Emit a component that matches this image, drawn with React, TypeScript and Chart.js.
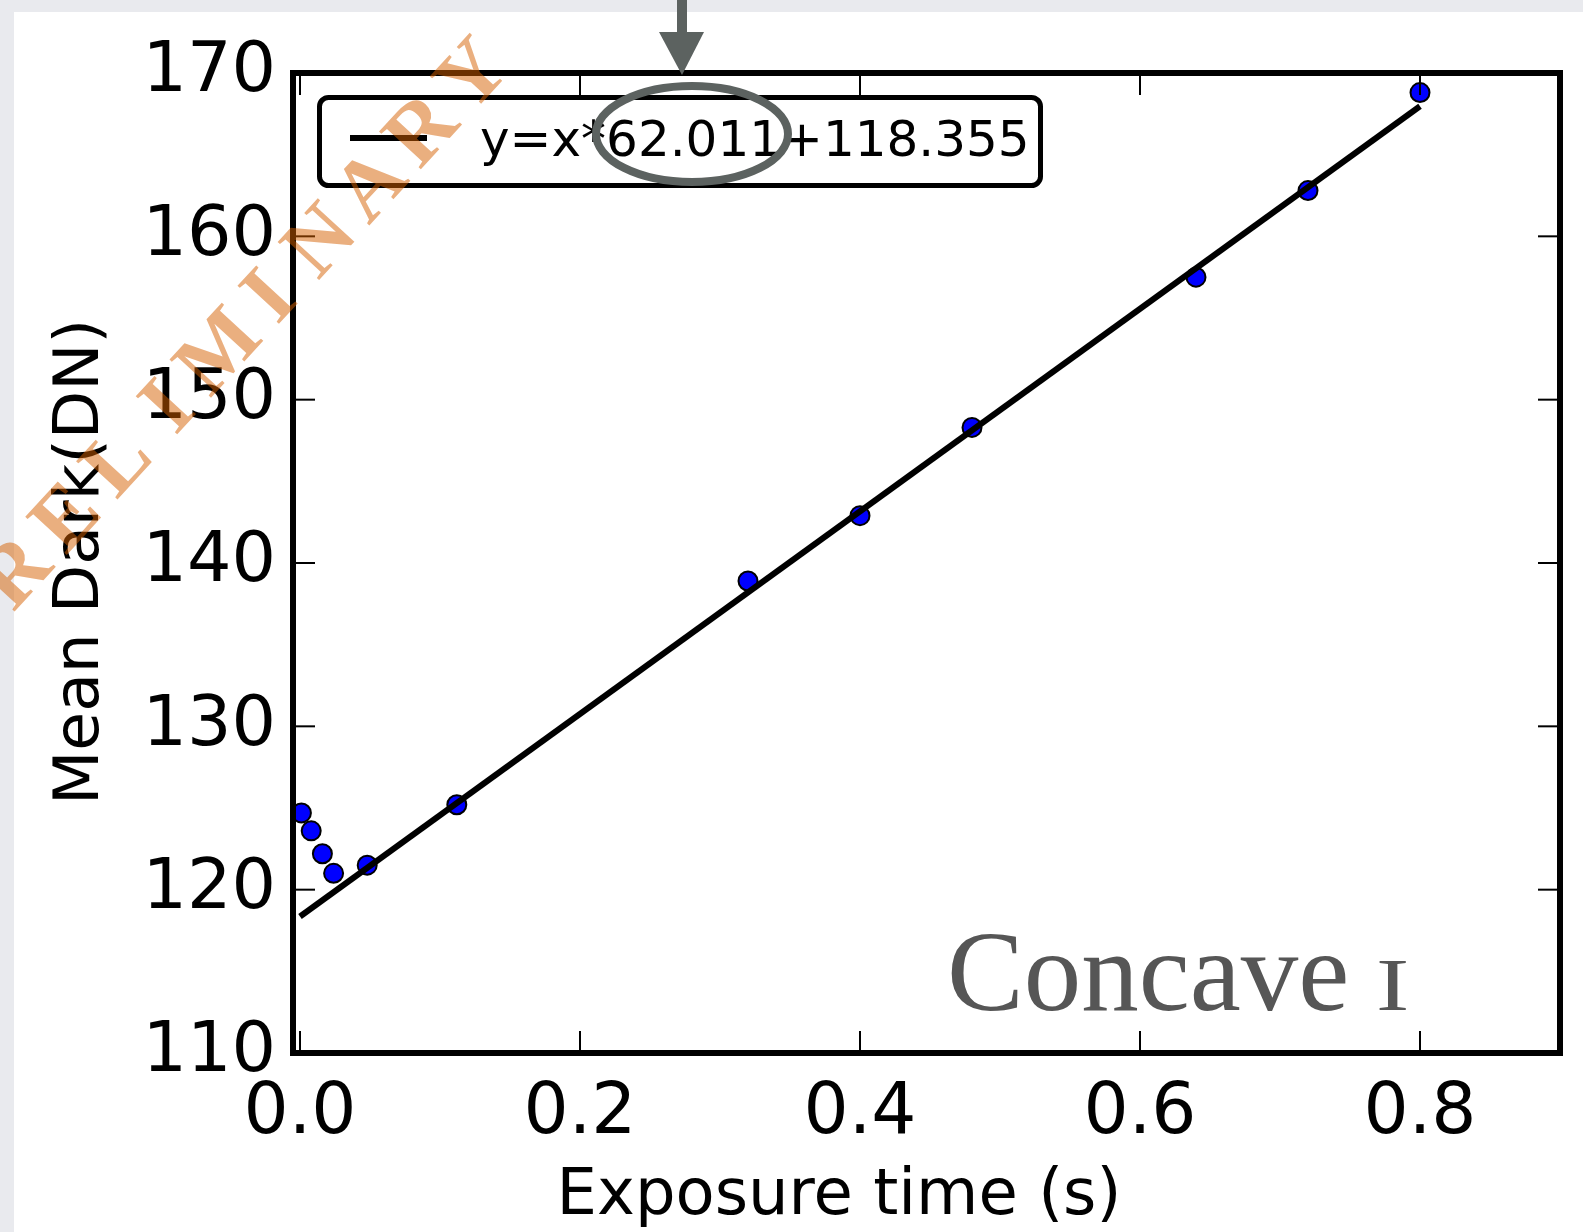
import React, { useEffect, useRef } from 'react';
import { Chart, registerables } from 'chart.js';

Chart.register(...registerables);

// ---- data ----
const exposureTimes = [0.001, 0.008, 0.016, 0.024, 0.048, 0.112, 0.32, 0.4, 0.48, 0.64, 0.72, 0.8];
const meanDark = [124.7, 123.6, 122.2, 121.0, 121.5, 125.2, 138.9, 142.9, 148.3, 157.5, 162.8, 168.8];
const fitX = [0, 0.8];
const fitY = [118.355, 167.964];
const xTickValues = [0, 0.2, 0.4, 0.6, 0.8];
const yTickValues = [110, 120, 130, 140, 150, 160, 170];
const legendLabel = 'y=x*62.011+118.355';
const xTitle = 'Exposure time (s)';
const yTitle = 'Mean Dark(DN)';
const panelLabel = 'Concave';
const panelNumeral = 'I';
const watermark = 'PRELIMINARY';

const W = 1583;
const H = 1232;

export default function App() {
  const ref = useRef<HTMLCanvasElement>(null);

  useEffect(() => {
    const canvas = ref.current;
    if (!canvas) return;

    const decor = {
      id: 'decor',
      afterDatasetsDraw(chart: any) {
        const { ctx, chartArea: ca, scales } = chart;
        const xs = scales.x;
        const ys = scales.y;
        ctx.save();
        const seg = (x1: number, y1: number, x2: number, y2: number) => {
          ctx.beginPath();
          ctx.moveTo(x1, y1);
          ctx.lineTo(x2, y2);
          ctx.stroke();
        };
        // inward tick marks on all four sides
        ctx.strokeStyle = '#000';
        ctx.lineWidth = 2;
        const tl = 22;
        xTickValues.forEach((v) => {
          const px = xs.getPixelForValue(v);
          seg(px, ca.bottom, px, ca.bottom - tl);
          seg(px, ca.top, px, ca.top + tl);
        });
        yTickValues.forEach((v) => {
          const py = ys.getPixelForValue(v);
          seg(ca.left, py, ca.left + tl, py);
          seg(ca.right, py, ca.right - tl, py);
        });
        // frame
        ctx.lineWidth = 6;
        ctx.strokeRect(ca.left, ca.top, ca.right - ca.left, ca.bottom - ca.top);

        // legend box
        const lx = ca.left + 26.5;
        const ly = ca.top + 24.5;
        const lw = 721;
        const lh = 88;
        const r = 9;
        ctx.fillStyle = '#fff';
        ctx.lineWidth = 5;
        ctx.beginPath();
        ctx.moveTo(lx + r, ly);
        ctx.lineTo(lx + lw - r, ly);
        ctx.arcTo(lx + lw, ly, lx + lw, ly + r, r);
        ctx.lineTo(lx + lw, ly + lh - r);
        ctx.arcTo(lx + lw, ly + lh, lx + lw - r, ly + lh, r);
        ctx.lineTo(lx + r, ly + lh);
        ctx.arcTo(lx, ly + lh, lx, ly + lh - r, r);
        ctx.lineTo(lx, ly + r);
        ctx.arcTo(lx, ly, lx + r, ly, r);
        ctx.closePath();
        ctx.fill();
        ctx.stroke();
        ctx.lineWidth = 6;
        seg(350, 138, 427, 138);
        ctx.fillStyle = '#000';
        ctx.font = '50px "DejaVu Sans"';
        ctx.textAlign = 'left';
        ctx.textBaseline = 'alphabetic';
        ctx.fillText(legendLabel, 480, 156);

        // axis titles
        ctx.font = '64px "DejaVu Sans"';
        ctx.textAlign = 'center';
        ctx.fillText(xTitle, 839, 1214);
        ctx.save();
        ctx.translate(98, 562);
        ctx.rotate(-Math.PI / 2);
        ctx.font = '63px "DejaVu Sans"';
        ctx.fillText(yTitle, 0, 0);
        ctx.restore();

        // panel label
        ctx.fillStyle = '#565656';
        ctx.textAlign = 'left';
        ctx.font = '115px "Liberation Serif"';
        ctx.fillText(panelLabel, 947, 1010);
        ctx.save();
        ctx.translate(1376, 1010);
        ctx.scale(1.35, 1);
        ctx.font = '74px "Liberation Serif"';
        ctx.fillText(panelNumeral, 0, 0);
        ctx.restore();

        // annotation: ellipse + arrow
        ctx.strokeStyle = '#5c6260';
        ctx.lineWidth = 8;
        ctx.beginPath();
        ctx.ellipse(692, 134, 96, 48, 0, 0, Math.PI * 2);
        ctx.stroke();
        ctx.fillStyle = '#5c6260';
        ctx.fillRect(677, 0, 10, 34);
        ctx.beginPath();
        ctx.moveTo(659, 32);
        ctx.lineTo(704, 32);
        ctx.lineTo(682, 75);
        ctx.closePath();
        ctx.fill();
        ctx.restore();
      },
      afterDraw(chart: any) {
        const { ctx } = chart;
        ctx.save();
        const dx = 0.677;
        const dy = -0.737;
        const ang = Math.atan2(dy, dx);
        const step = 75;
        const rx = 18;
        const ry = 575;
        ctx.font = 'bold 86px "Liberation Serif"';
        ctx.fillStyle = 'rgba(213,96,0,0.5)';
        ctx.textAlign = 'center';
        ctx.textBaseline = 'middle';
        watermark.split('').forEach((ch, i) => {
          const k = (i - 1) * step;
          ctx.save();
          ctx.translate(rx + k * dx, ry + k * dy);
          ctx.rotate(ang);
          ctx.fillText(ch, 0, 0);
          ctx.restore();
        });
        ctx.restore();
      },
    };

    const chart = new Chart(canvas, {
      type: 'scatter',
      data: {
        datasets: [
          {
            type: 'line',
            label: legendLabel,
            data: fitX.map((x, i) => ({ x, y: fitY[i] })),
            borderColor: '#000',
            borderWidth: 6,
            pointRadius: 0,
            fill: false,
            order: 0,
          } as any,
          {
            type: 'scatter',
            label: 'Mean dark',
            data: exposureTimes.map((x, i) => ({ x, y: meanDark[i] })),
            backgroundColor: '#0000ff',
            borderColor: '#000',
            borderWidth: 2,
            pointRadius: 9.5,
            order: 1,
          },
        ],
      },
      options: {
        responsive: false,
        animation: false,
        devicePixelRatio: 1,
        layout: { padding: { left: 0, top: 73, right: 23, bottom: 0 } },
        plugins: { legend: { display: false }, tooltip: { enabled: false } },
        scales: {
          x: {
            type: 'linear',
            min: -0.005,
            max: 0.9,
            afterBuildTicks: (s: any) => {
              s.ticks = xTickValues.map((v) => ({ value: v }));
            },
            afterFit: (s: any) => {
              s.height = 179;
            },
            grid: { display: false, drawTicks: false },
            border: { display: false },
            ticks: {
              padding: 19,
              color: '#000',
              maxRotation: 0,
              autoSkip: false,
              font: { family: 'DejaVu Sans', size: 71 },
              callback: (v: any) => Number(v).toFixed(1),
            },
          },
          y: {
            type: 'linear',
            min: 110,
            max: 170,
            afterBuildTicks: (s: any) => {
              s.ticks = yTickValues.map((v) => ({ value: v }));
            },
            afterFit: (s: any) => {
              s.width = 293;
            },
            grid: { display: false, drawTicks: false },
            border: { display: false },
            ticks: {
              padding: 17,
              color: '#000',
              autoSkip: false,
              font: { family: 'DejaVu Sans', size: 70 },
              callback: (v: any) => String(v),
            },
          },
        },
      },
      plugins: [decor],
    });

    return () => chart.destroy();
  }, []);

  return (
    <div style={{ position: 'absolute', left: 0, top: 0, width: W, height: H, background: '#e9eaee', overflow: 'hidden' }}>
      <div style={{ position: 'absolute', left: 14, top: 12, right: 0, bottom: 0, background: '#ffffff' }} />
      <canvas ref={ref} width={W} height={H} style={{ position: 'absolute', left: 0, top: 0, width: W, height: H }} />
    </div>
  );
}
